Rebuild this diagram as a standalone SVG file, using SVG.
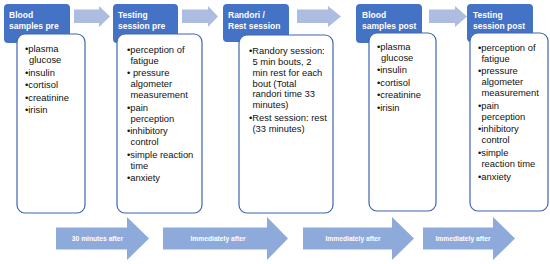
<svg xmlns="http://www.w3.org/2000/svg" width="550" height="264" viewBox="0 0 550 264">
<style>
.hd{fill:#4472C4;}
.bd{fill:#FFFFFF;stroke:#3F66B0;stroke-width:1.2;}
.ht{font-family:"Liberation Sans",Arial,sans-serif;font-weight:bold;font-size:8.5px;fill:#FFFFFF;}
.bt{font-family:"Liberation Sans",Arial,sans-serif;font-size:9.4px;fill:#111111;}
.ta{fill:#ADBDE1;}
.ba{fill:#8EAADB;}
.at{font-family:"Liberation Sans",Arial,sans-serif;font-weight:bold;font-size:6.7px;fill:#FFFFFF;text-anchor:middle;}
</style>
<rect width="550" height="264" fill="#FFFFFF"/>
<g id="connectors">
  <polygon class="ta" points="74,9.5 99,9.5 99,6 110,16.5 99,27 99,23 74,23"/>
  <polygon class="ta" points="182,9.5 208,9.5 208,6 218,16.5 208,27 208,23 182,23"/>
  <polygon class="ta" points="297,9.5 328,9.5 328,6 341,16.5 328,27 328,23 297,23"/>
  <polygon class="ta" points="429,9.5 455,9.5 455,6 467,16.5 455,27 455,23 429,23"/>
  <polygon class="ba" points="56,227.5 127,227.5 127,217 149,238.5 127,260 127,249.5 56,249.5"/>
  <polygon class="ba" points="163,227.5 267,227.5 267,217 288,238.5 267,260 267,249.5 163,249.5"/>
  <polygon class="ba" points="303,227.5 392,227.5 392,217 414,238.5 392,260 392,249.5 303,249.5"/>
  <polygon class="ba" points="423,227.5 493,227.5 493,217 515,238.5 493,260 493,249.5 423,249.5"/>
  <text class="at" x="97.5" y="240.5">30 minutes after</text>
  <text class="at" x="218" y="240.5">Immediately after</text>
  <text class="at" x="353" y="240.5">Immediately after</text>
  <text class="at" x="463" y="240.5">Immediately after</text>
</g>
<g id="blood-pre">
  <rect class="hd" x="4" y="4" width="66" height="39" rx="4"/>
  <text class="ht" x="9" y="18">Blood</text>
  <text class="ht" x="9" y="29">samples pre</text>
  <rect class="bd" x="17" y="34" width="68" height="179" rx="8"/>
  <text class="bt">
    <tspan x="25" y="52">•plasma</tspan>
    <tspan x="29" y="63">glucose</tspan>
    <tspan x="25" y="75.5">•insulin</tspan>
    <tspan x="25" y="88">•cortisol</tspan>
    <tspan x="25" y="100.5">•creatinine</tspan>
    <tspan x="25" y="113">•irisin</tspan>
  </text>
</g>
<g id="testing-pre">
  <rect class="hd" x="113" y="4" width="65" height="39" rx="4"/>
  <text class="ht" x="118" y="18">Testing</text>
  <text class="ht" x="118" y="29">session pre</text>
  <rect class="bd" x="117" y="34" width="85" height="179" rx="8"/>
  <text class="bt">
    <tspan x="127" y="52.5">•perception of</tspan>
    <tspan x="130.5" y="63.5">fatigue</tspan>
    <tspan x="127" y="76">• pressure</tspan>
    <tspan x="130.5" y="87">algometer</tspan>
    <tspan x="130.5" y="98">measurement</tspan>
    <tspan x="127" y="110.5">•pain</tspan>
    <tspan x="130.5" y="121.5">perception</tspan>
    <tspan x="127" y="134">•inhibitory</tspan>
    <tspan x="130.5" y="145">control</tspan>
    <tspan x="127" y="157.5">•simple reaction</tspan>
    <tspan x="130.5" y="168.5">time</tspan>
    <tspan x="127" y="181">•anxiety</tspan>
  </text>
</g>
<g id="randori">
  <rect class="hd" x="223" y="4" width="66" height="38" rx="4"/>
  <text class="ht" x="228" y="18">Randori /</text>
  <text class="ht" x="228" y="29">Rest session</text>
  <rect class="bd" x="239" y="35" width="94" height="178" rx="8"/>
  <text class="bt">
    <tspan x="249" y="54">•Randory session:</tspan>
    <tspan x="252.5" y="65">5 min bouts, 2</tspan>
    <tspan x="252.5" y="76">min rest for each</tspan>
    <tspan x="252.5" y="86.5">bout (Total</tspan>
    <tspan x="252.5" y="97">randori time 33</tspan>
    <tspan x="252.5" y="107.5">minutes)</tspan>
    <tspan x="249" y="120.5">•Rest session: rest</tspan>
    <tspan x="252.5" y="131.5">(33 minutes)</tspan>
  </text>
</g>
<g id="blood-post">
  <rect class="hd" x="356" y="4" width="66" height="39" rx="4"/>
  <text class="ht" x="362" y="18">Blood</text>
  <text class="ht" x="362" y="29">samples post</text>
  <rect class="bd" x="369" y="33" width="67" height="178" rx="8"/>
  <text class="bt">
    <tspan x="377" y="50">•plasma</tspan>
    <tspan x="381" y="61">glucose</tspan>
    <tspan x="377" y="73">•insulin</tspan>
    <tspan x="377" y="85.5">•cortisol</tspan>
    <tspan x="377" y="98">•creatinine</tspan>
    <tspan x="377" y="110.5">•irisin</tspan>
  </text>
</g>
<g id="testing-post">
  <rect class="hd" x="467" y="4" width="66" height="38" rx="4"/>
  <text class="ht" x="473" y="18">Testing</text>
  <text class="ht" x="473" y="29">session post</text>
  <rect class="bd" x="470" y="33" width="78" height="178" rx="8"/>
  <text class="bt">
    <tspan x="478" y="50.5">•perception of</tspan>
    <tspan x="481.5" y="61.5">fatigue</tspan>
    <tspan x="478" y="74">•pressure</tspan>
    <tspan x="481.5" y="85">algometer</tspan>
    <tspan x="481.5" y="96">measurement</tspan>
    <tspan x="478" y="108.5">•pain</tspan>
    <tspan x="481.5" y="119.5">perception</tspan>
    <tspan x="478" y="131.5">•inhibitory</tspan>
    <tspan x="481.5" y="142.5">control</tspan>
    <tspan x="478" y="156">•simple</tspan>
    <tspan x="481.5" y="167">reaction time</tspan>
    <tspan x="478" y="179.5">•anxiety</tspan>
  </text>
</g>
</svg>
